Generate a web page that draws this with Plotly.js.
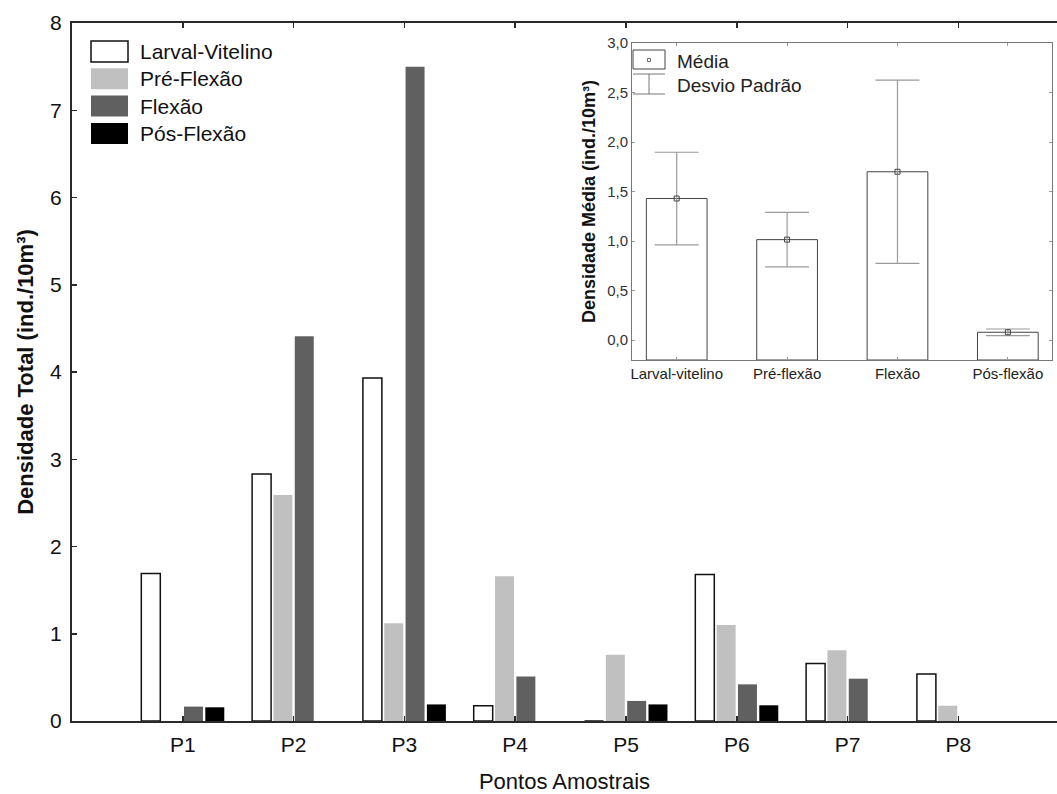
<!DOCTYPE html>
<html>
<head>
<meta charset="utf-8">
<script src="https://cdn.plot.ly/plotly-3.0.1.min.js"></script>
<style>
  html, body { margin: 0; padding: 0; background: #fff; }
  #chart { width: 1057px; height: 794px; }
</style>
</head>
<body>
<div id="chart"></div>
<script>
// ---- Main chart data (Densidade Total, ind./10m³) ----
const points = ['P1', 'P2', 'P3', 'P4', 'P5', 'P6', 'P7', 'P8'];
const larvalVitelino = [1.69, 2.83, 3.93, 0.175, 0, 1.68, 0.66, 0.54];
const preFlexao      = [0, 2.59, 1.12, 1.66, 0.76, 1.10, 0.81, 0.175];
const flexao         = [0.165, 4.41, 7.50, 0.51, 0.23, 0.42, 0.485, 0];
const posFlexao      = [0.157, 0, 0.19, 0, 0.19, 0.18, 0, 0];
const seriesNames    = ['Larval-Vitelino', 'Pré-Flexão', 'Flexão', 'Pós-Flexão'];

// ---- Inset data (Densidade Média, ind./10m³) ----
const stages      = ['Larval-vitelino', 'Pré-flexão', 'Flexão', 'Pós-flexão'];
const meanDensity = [1.43, 1.015, 1.70, 0.08];
const sdDensity   = [0.467, 0.275, 0.925, 0.033];
const insetLegend = ['Média', 'Desvio Padrão'];

// ---- Layout geometry helpers (pixels -> paper) ----
const W = 1057, H = 794;
const M = { l: 72, r: 0, t: 23, b: 73 };
const PW = W - M.l - M.r, PH = H - M.t - M.b;
const px = v => (v - M.l) / PW;
const py = v => (H - M.b - v) / PH;

const FONT = 'Liberation Sans, Arial, Helvetica, sans-serif';
const fills = ['#ffffff', '#c0c0c0', '#606060', '#000000'];
const lines = ['#111111', '#c0c0c0', '#606060', '#000000'];
const seriesData = [larvalVitelino, preFlexao, flexao, posFlexao];

const traces = seriesData.map((vals, i) => ({
  type: 'bar',
  name: seriesNames[i],
  x: points,
  y: vals,
  xaxis: 'x', yaxis: 'y',
  marker: { color: fills[i], line: { color: lines[i], width: i === 0 ? 1.5 : 0 } },
  hoverinfo: 'x+y+name'
}));

// Inset bars: drawn up from the bottom of the inset axis (as in the original)
const insetMin = -0.2;
traces.push({
  type: 'bar',
  name: 'Média',
  x: stages,
  base: insetMin,
  y: meanDensity.map(m => m - insetMin),
  xaxis: 'x2', yaxis: 'y2',
  width: 0.55,
  marker: { color: '#ffffff', line: { color: '#444444', width: 1 } },
  showlegend: false
});
// Inset mean markers + SD whiskers
traces.push({
  type: 'scatter',
  mode: 'markers',
  name: 'Desvio Padrão',
  x: stages,
  y: meanDensity,
  xaxis: 'x2', yaxis: 'y2',
  marker: { symbol: 'square-open', size: 5, color: '#444444', line: { width: 1 } },
  error_y: { type: 'data', array: sdDensity, visible: true, color: '#9a9a9a', thickness: 1.2, width: 22 },
  showlegend: false
});

// ---- Custom legends (shapes + annotations) ----
const shapes = [];
const annotations = [];
const legTop = 41, legStep = 27.3, boxH = 21;
for (let i = 0; i < 4; i++) {
  const y0 = legTop + legStep * i;
  shapes.push({
    type: 'rect', xref: 'paper', yref: 'paper',
    x0: px(91), x1: px(128), y0: py(y0 + boxH), y1: py(y0),
    fillcolor: fills[i],
    line: { color: lines[i], width: i === 0 ? 1.5 : 0 }
  });
  annotations.push({
    xref: 'paper', yref: 'paper', x: px(138), y: py(y0 + boxH / 2),
    xanchor: 'left', yanchor: 'middle', showarrow: false,
    text: seriesNames[i], font: { family: FONT, size: 21, color: '#111' }
  });
}
// Inset legend: "Média" box with small square
shapes.push({ type: 'rect', xref: 'paper', yref: 'paper',
  x0: px(633), x1: px(665), y0: py(69), y1: py(50),
  fillcolor: 'rgba(0,0,0,0)', line: { color: '#444', width: 1 } });
shapes.push({ type: 'rect', xref: 'paper', yref: 'paper',
  x0: px(647.5), x1: px(650.5), y0: py(61.5), y1: py(58.5),
  fillcolor: 'rgba(0,0,0,0)', line: { color: '#666', width: 1 } });
// "Desvio Padrão" whisker symbol
shapes.push({ type: 'line', xref: 'paper', yref: 'paper', x0: px(633), x1: px(665), y0: py(74), y1: py(74), line: { color: '#777', width: 1 } });
shapes.push({ type: 'line', xref: 'paper', yref: 'paper', x0: px(649), x1: px(649), y0: py(74), y1: py(94), line: { color: '#777', width: 1 } });
shapes.push({ type: 'line', xref: 'paper', yref: 'paper', x0: px(633), x1: px(665), y0: py(94), y1: py(94), line: { color: '#777', width: 1 } });
annotations.push({ xref: 'paper', yref: 'paper', x: px(675), y: py(61), xanchor: 'left', yanchor: 'middle',
  showarrow: false, text: insetLegend[0], font: { family: FONT, size: 19, color: '#222' } });
annotations.push({ xref: 'paper', yref: 'paper', x: px(675), y: py(85), xanchor: 'left', yanchor: 'middle',
  showarrow: false, text: insetLegend[1], font: { family: FONT, size: 19, color: '#222' } });

const layout = {
  width: W, height: H,
  margin: M,
  paper_bgcolor: '#ffffff',
  plot_bgcolor: 'rgba(0,0,0,0)',
  showlegend: false,
  separators: ',.',
  barmode: 'group',
  bargap: 0.23,
  bargroupgap: 0.11,
  font: { family: FONT, color: '#111' },
  xaxis: {
    domain: [0, 1], anchor: 'y',
    type: 'category', range: [-1.0, 7.89],
    showline: true, linecolor: '#2a2a2a', linewidth: 2, mirror: 'ticks',
    ticks: 'inside', ticklen: 5, tickwidth: 1.5, tickcolor: '#2a2a2a',
    tickfont: { family: FONT, size: 21, color: '#111' },
    ticklabelstandoff: 4,
    showgrid: false, zeroline: false,
    title: { text: 'Pontos Amostrais', font: { family: FONT, size: 22, color: '#111' }, standoff: 24 }
  },
  yaxis: {
    domain: [0, 1], anchor: 'x',
    range: [0, 8], dtick: 1,
    showline: true, linecolor: '#2a2a2a', linewidth: 2, mirror: false,
    ticks: 'inside', ticklen: 5, tickwidth: 1.5, tickcolor: '#2a2a2a',
    tickfont: { family: FONT, size: 21, color: '#111' },
    ticklabelstandoff: 4,
    showgrid: false, zeroline: false,
    title: { text: 'Densidade Total (ind./10m³)', font: { family: FONT, size: 22, color: '#111', weight: 'bold' }, standoff: 10 }
  },
  xaxis2: {
    domain: [px(632), px(1052)], anchor: 'y2',
    type: 'category', range: [-0.405, 3.4],
    showline: true, linecolor: '#777', linewidth: 1, mirror: 'ticks',
    ticks: 'inside', ticklen: 3, tickcolor: '#999',
    tickfont: { family: FONT, size: 15, color: '#222' },
    showgrid: false, zeroline: false
  },
  yaxis2: {
    domain: [py(360), py(43)], anchor: 'x2',
    range: [insetMin, 3.0], dtick: 0.5, tickformat: '.1f',
    showline: true, linecolor: '#777', linewidth: 1, mirror: 'ticks',
    ticks: 'inside', ticklen: 3, tickcolor: '#999',
    tickfont: { family: FONT, size: 15, color: '#333' },
    showgrid: false, zeroline: false,
    title: { text: 'Densidade Média (ind./10m³)', font: { family: FONT, size: 18, color: '#111', weight: 'bold' }, standoff: 6 }
  },
  shapes: shapes,
  annotations: annotations
};

Plotly.newPlot('chart', traces, layout, { displayModeBar: false, staticPlot: true });
</script>
</body>
</html>
